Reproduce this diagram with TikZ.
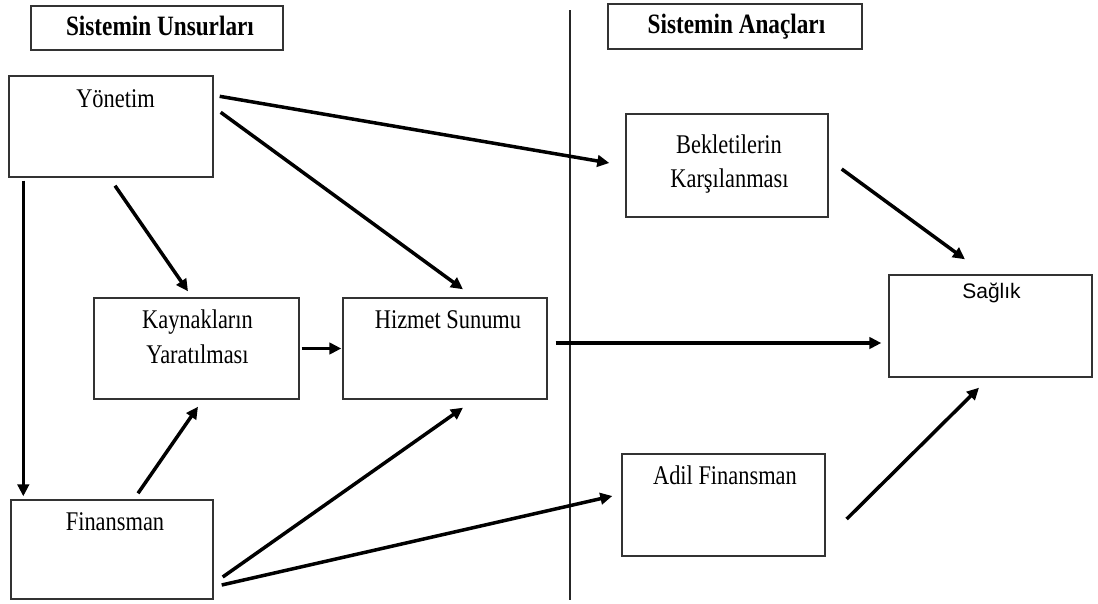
\documentclass[tikz,border=0pt]{standalone}
\usepackage{fontspec}
\setmainfont{Liberation Serif}[FakeStretch=0.83]
\newfontfamily\sagfont{Liberation Sans}
\usetikzlibrary{arrows.meta,calc}
\begin{document}
\begin{tikzpicture}[x=1pt,y=-1pt,
  box/.style={draw=black!80, line width=1.4pt, inner sep=0pt},
  hd/.style={font=\fontsize{28}{32}\selectfont\bfseries, anchor=base, inner sep=0pt},
  lab/.style={font=\fontsize{27}{32}\selectfont, anchor=base, inner sep=0pt},
  sanslab/.style={font=\sagfont\fontsize{21}{25}\selectfont, anchor=base, inner sep=0pt},
  arr/.style={line width=3.5pt, -{Triangle[length=12pt,width=11.5pt]}},
  sepline/.style={line width=1.1pt, draw=black!85}]
\useasboundingbox (0,0) rectangle (1098,603);

% boxes
\node[box, minimum width=252pt, minimum height=44pt] (h1) at (157,28) {};
\node[box, minimum width=254pt, minimum height=45pt] (h2) at (735,26.5) {};
\node[box, minimum width=204pt, minimum height=101pt] (yon) at (111,126.5) {};
\node[box, minimum width=205pt, minimum height=101pt] (kay) at (196.5,348.5) {};
\node[box, minimum width=204pt, minimum height=101pt] (hiz) at (445,348.5) {};
\node[box, minimum width=202pt, minimum height=99pt] (fin) at (112,549.5) {};
\node[box, minimum width=202pt, minimum height=103pt] (bek) at (727,165.5) {};
\node[box, minimum width=203pt, minimum height=102pt] (sag) at (990.5,326) {};
\node[box, minimum width=203pt, minimum height=102pt] (adil) at (723.5,505) {};

% texts
\node[hd] (h1t) at (160,35) {Sistemin Unsurları};
\node[hd] (h2t) at (736.5,33) {Sistemin Anaçları};
\node[lab] (yont) at (115.5,107) {Yönetim};
\node[lab] (kayt1) at (197.5,328) {Kaynakların};
\node[lab] (kayt2) at (197.5,363) {Yaratılması};
\node[lab] (hizt) at (448,328) {Hizmet Sunumu};
\node[lab] (fint) at (115,530) {Finansman};
\node[lab] (bekt1) at (729,153) {Bekletilerin};
\node[lab] (bekt2) at (729.5,187) {Karşılanması};
\node[sanslab] (sagt) at (991.5,298) {Sağlık};
\node[lab] (adilt) at (725,484) {Adil Finansman};

% divider
\coordinate (dtop) at (570,10);
\coordinate (dbot) at (570,600);
\draw[sepline] (dtop) -- (dbot);

% connectors
\draw[arr] ($(yon.north east)+(6,21)$) -- ($(bek.west)+(-16,-2.5)$);
\draw[arr] ($(yon.north east)+(7,37)$) -- ($(hiz.north)+(18,-8)$);
\draw[arr] ($(yon.south)+(4,8)$) -- ($(kay.north)+(-8.5,-6)$);
\draw[arr] ($(yon.south west)+(15,3)$) -- ($(fin.north west)+(13,-3)$);
\draw[arr] ($(kay.east)+(2,0)$) -- ($(hiz.west)+(-1,0)$);
\draw[arr] ($(fin.north)+(26,-6)$) -- ($(kay.south)+(1.5,7)$);
\draw[arr] ($(fin.east)+(9,27.5)$) -- ($(hiz.south)+(18,8)$);
\draw[arr] ($(fin.east)+(8,35.5)$) -- ($(adil.west)+(-9,-9)$);
\draw[arr] ($(hiz.east)+(8,-5.5)$) -- ($(sag.west)+(-7,17)$);
\draw[arr] ($(bek.east)+(13,3.5)$) -- ($(sag.north)+(-25.5,-15)$);
\draw[arr] ($(adil.east)+(21,14)$) -- ($(sag.south)+(-11.5,10)$);
\end{tikzpicture}
\end{document}
